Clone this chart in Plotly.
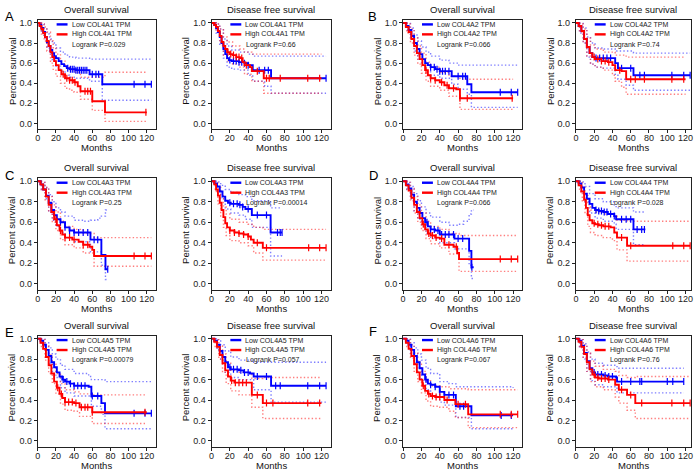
import plotly.graph_objects as go

genes = ["COL4A1", "COL4A2", "COL4A3", "COL4A4", "COL4A5", "COL4A6"]
letters = ["A", "B", "C", "D", "E", "F"]
p_os = ["0.029", "0.066", "0.25", "0.066", "0.00079", "0.067"]
p_dfs = ["0.66", "0.74", "0.00014", "0.028", "0.057", "0.76"]
x_ticks = [0, 20, 40, 60, 80, 100, 120]
y_ticks = [0.0, 0.2, 0.4, 0.6, 0.8, 1.0]

# ---- A: COL4A1 ----
A_OS_low = [[0,1],[2,0.98],[4,0.95],[6,0.91],[8,0.86],[10,0.81],[12,0.77],[14,0.73],[16,0.70],[18,0.67],[20,0.65],[23,0.62],[26,0.59],[29,0.57],[32,0.55],[35,0.54],[42,0.53],[57,0.49],[71,0.39],[125,0.39]]
A_OS_low_up = [[0,1],[4,0.99],[7,0.95],[10,0.89],[13,0.84],[16,0.80],[20,0.75],[25,0.71],[30,0.68],[35,0.66],[42,0.65],[57,0.64],[125,0.64]]
A_OS_low_dn = [[0,1],[4,0.92],[7,0.85],[10,0.75],[13,0.69],[16,0.63],[20,0.57],[25,0.52],[30,0.48],[35,0.46],[42,0.45],[57,0.42],[71,0.23],[125,0.23]]
A_OS_low_c = [33,36,38,40,42,44,46,48,50,52,54,60,64,67,106,118,125]
A_OS_high = [[0,1],[2,0.97],[4,0.94],[6,0.90],[8,0.86],[10,0.82],[12,0.77],[14,0.71],[16,0.66],[18,0.62],[20,0.58],[23,0.53],[26,0.49],[30,0.45],[35,0.43],[40,0.41],[44,0.37],[47,0.32],[60,0.22],[74,0.11],[120,0.11]]
A_OS_high_up = [[0,1],[4,0.99],[7,0.96],[10,0.91],[14,0.82],[17,0.75],[20,0.69],[25,0.62],[30,0.56],[35,0.53],[40,0.51],[47,0.46],[60,0.46],[74,0.51],[120,0.51]]
A_OS_high_dn = [[0,1],[4,0.89],[7,0.82],[10,0.72],[14,0.60],[17,0.53],[20,0.47],[25,0.40],[30,0.35],[35,0.33],[40,0.31],[47,0.24],[60,0.13],[74,0.02],[120,0.02]]
A_OS_high_c = [28,32,35,38,41,52,55,58,119]

A_DFS_low = [[0,1],[3,0.98],[5,0.95],[7,0.91],[9,0.86],[11,0.80],[13,0.74],[15,0.69],[17,0.65],[19,0.63],[22,0.62],[30,0.61],[36,0.60],[40,0.58],[45,0.53],[65,0.45],[125,0.45]]
A_DFS_low_up = [[0,1],[5,0.99],[9,0.94],[13,0.84],[17,0.77],[22,0.73],[30,0.71],[40,0.69],[45,0.67],[65,0.67],[125,0.67]]
A_DFS_low_dn = [[0,1],[5,0.90],[9,0.78],[13,0.65],[17,0.56],[22,0.54],[30,0.53],[40,0.48],[45,0.42],[58,0.37],[65,0.30],[125,0.30]]
A_DFS_low_c = [20,24,27,30,33,36,40,52,58,62,125]
A_DFS_high = [[0,1],[3,0.98],[5,0.96],[7,0.92],[9,0.87],[11,0.81],[13,0.77],[15,0.74],[17,0.71],[20,0.69],[23,0.68],[27,0.66],[31,0.65],[34,0.61],[36,0.58],[42,0.56],[44,0.52],[57,0.45],[120,0.45]]
A_DFS_high_up = [[0,1],[5,0.99],[9,0.94],[13,0.86],[17,0.81],[23,0.77],[31,0.74],[36,0.71],[44,0.69],[57,0.69],[120,0.69]]
A_DFS_high_dn = [[0,1],[5,0.92],[9,0.80],[13,0.68],[17,0.62],[23,0.59],[31,0.56],[36,0.49],[44,0.42],[57,0.30],[120,0.30]]
A_DFS_high_c = [18,21,24,27,30,33,38,50,60,63,75,105,118]

# ---- B: COL4A2 ----
B_OS_low = [[0,1],[3,0.97],[6,0.93],[9,0.87],[12,0.80],[15,0.74],[18,0.69],[21,0.64],[24,0.60],[27,0.58],[30,0.56],[35,0.54],[40,0.52],[53,0.47],[70,0.39],[74.5,0.31],[125,0.31]]
B_OS_low_up = [[0,1],[4,0.995],[8,0.95],[12,0.88],[16,0.82],[20,0.76],[25,0.71],[30,0.67],[40,0.63],[50,0.60],[60,0.58],[125,0.58]]
B_OS_low_dn = [[0,1],[4,0.93],[8,0.84],[12,0.72],[16,0.64],[20,0.58],[25,0.52],[30,0.48],[40,0.45],[53,0.39],[60,0.34],[70,0.29],[74.5,0.16],[125,0.16]]
B_OS_low_c = [30,34,37,40,43,46,50,60,65,68,106,118,125]
B_OS_high = [[0,1],[3,0.96],[6,0.91],[9,0.84],[12,0.77],[15,0.70],[18,0.64],[21,0.58],[24,0.53],[27,0.48],[30,0.45],[35,0.43],[40,0.41],[45,0.38],[50,0.35],[58,0.34],[62,0.25],[120,0.25]]
B_OS_high_up = [[0,1],[4,0.99],[8,0.94],[12,0.85],[16,0.77],[20,0.70],[25,0.61],[30,0.56],[40,0.51],[50,0.47],[62,0.44],[120,0.44]]
B_OS_high_dn = [[0,1],[4,0.90],[8,0.80],[12,0.68],[16,0.59],[20,0.50],[25,0.42],[30,0.37],[40,0.33],[50,0.27],[62,0.14],[120,0.14]]
B_OS_high_c = [25,30,35,42,48,55,62,70,119]

B_DFS_low = [[0,1],[3,0.97],[6,0.92],[9,0.84],[12,0.76],[15,0.70],[18,0.66],[21,0.65],[41,0.65],[43,0.60],[46,0.55],[63,0.48],[125,0.48]]
B_DFS_low_up = [[0,1],[4,0.995],[8,0.95],[12,0.86],[16,0.80],[21,0.75],[30,0.74],[43,0.72],[63,0.70],[125,0.70]]
B_DFS_low_dn = [[0,1],[4,0.90],[8,0.80],[12,0.66],[16,0.59],[21,0.56],[30,0.55],[43,0.49],[46,0.44],[55,0.38],[63,0.33],[125,0.33]]
B_DFS_low_c = [22,26,30,34,38,50,60,70,75,105,118,125]
B_DFS_high = [[0,1],[3,0.97],[6,0.92],[9,0.84],[12,0.76],[15,0.70],[18,0.66],[21,0.64],[28,0.62],[35,0.61],[40,0.58],[43,0.53],[50,0.52],[55,0.44],[120,0.44]]
B_DFS_high_up = [[0,1],[4,0.99],[8,0.94],[12,0.85],[16,0.78],[21,0.74],[30,0.71],[43,0.68],[55,0.66],[120,0.66]]
B_DFS_high_dn = [[0,1],[4,0.91],[8,0.80],[12,0.67],[16,0.59],[21,0.56],[30,0.53],[40,0.48],[43,0.42],[50,0.36],[55,0.29],[120,0.29]]
B_DFS_high_c = [20,24,28,32,36,48,60,65,75,105,118]

# ---- C: COL4A3 ----
C_OS_low = [[0,1],[3,0.97],[6,0.92],[9,0.86],[12,0.79],[15,0.72],[18,0.67],[21,0.63],[25,0.60],[30,0.55],[35,0.52],[40,0.50],[58,0.43],[70,0.28],[74.5,0.14],[77,0.14]]
C_OS_low_up = [[0,1],[4,0.99],[8,0.94],[12,0.87],[16,0.80],[20,0.74],[25,0.70],[30,0.66],[40,0.62],[50,0.61],[58,0.62],[66,0.64],[70,0.66],[74.5,0.72],[77,0.72]]
C_OS_low_dn = [[0,1],[4,0.92],[8,0.83],[12,0.70],[16,0.62],[20,0.56],[25,0.50],[30,0.45],[40,0.41],[58,0.31],[70,0.18],[74.5,0.04],[77,0.04]]
C_OS_low_c = [25,30,35,40,45,50,55,62,66,77]
C_OS_high = [[0,1],[3,0.97],[6,0.92],[9,0.85],[12,0.77],[15,0.70],[18,0.63],[21,0.57],[24,0.52],[27,0.48],[30,0.45],[38,0.43],[45,0.41],[50,0.38],[57,0.36],[60,0.33],[62,0.27],[125,0.27]]
C_OS_high_up = [[0,1],[4,0.99],[8,0.94],[12,0.85],[16,0.77],[20,0.70],[25,0.61],[30,0.56],[40,0.53],[50,0.49],[62,0.45],[125,0.45]]
C_OS_high_dn = [[0,1],[4,0.92],[8,0.82],[12,0.70],[16,0.60],[20,0.52],[25,0.43],[30,0.38],[40,0.35],[50,0.30],[62,0.17],[125,0.17]]
C_OS_high_c = [20,25,30,35,40,50,55,106,118,125]

C_DFS_low = [[0,1],[3,0.98],[6,0.95],[9,0.90],[12,0.85],[15,0.81],[18,0.79],[21,0.78],[30,0.77],[34,0.75],[37,0.73],[44,0.67],[64.5,0.50],[77,0.50]]
C_DFS_low_up = [[0,1],[6,0.995],[10,0.96],[15,0.92],[21,0.89],[30,0.87],[37,0.85],[44,0.81],[64.5,0.74],[77,0.74]]
C_DFS_low_dn = [[0,1],[6,0.91],[10,0.83],[15,0.73],[21,0.69],[30,0.67],[37,0.63],[44,0.55],[64.5,0.27],[77,0.27]]
C_DFS_low_c = [20,24,28,31,34,40,50,60,72,75,77]
C_DFS_high = [[0,1],[3,0.97],[5,0.92],[7,0.86],[9,0.79],[11,0.72],[13,0.65],[15,0.59],[17,0.55],[20,0.52],[25,0.50],[30,0.49],[35,0.48],[40,0.46],[43,0.43],[46,0.40],[56,0.35],[125,0.35]]
C_DFS_high_up = [[0,1],[4,0.99],[7,0.94],[10,0.86],[13,0.76],[16,0.68],[20,0.63],[30,0.60],[40,0.58],[46,0.55],[56,0.53],[125,0.53]]
C_DFS_high_dn = [[0,1],[4,0.90],[7,0.78],[10,0.66],[13,0.55],[16,0.47],[20,0.42],[30,0.40],[40,0.37],[46,0.30],[56,0.23],[125,0.23]]
C_DFS_high_c = [20,25,30,35,40,50,60,106,118,125]

# ---- D: COL4A4 ----
D_OS_low = [[0,1],[3,0.97],[6,0.93],[9,0.87],[12,0.80],[15,0.74],[18,0.69],[21,0.64],[24,0.60],[27,0.56],[30,0.53],[35,0.52],[40,0.48],[56,0.44],[72,0.32],[74.5,0.16],[77,0.16]]
D_OS_low_up = [[0,1],[4,0.99],[8,0.95],[12,0.88],[16,0.81],[20,0.75],[25,0.69],[30,0.65],[40,0.60],[50,0.57],[60,0.58],[66,0.61],[72,0.68],[74.5,0.72],[77,0.72]]
D_OS_low_dn = [[0,1],[4,0.92],[8,0.83],[12,0.71],[16,0.63],[20,0.56],[25,0.49],[30,0.44],[40,0.40],[56,0.34],[72,0.18],[74.5,0.05],[77,0.05]]
D_OS_low_c = [26,30,34,38,42,46,50,55,60,65,75]
D_OS_high = [[0,1],[3,0.96],[6,0.91],[9,0.84],[12,0.77],[15,0.70],[18,0.64],[21,0.58],[24,0.53],[27,0.49],[30,0.47],[35,0.45],[40,0.44],[45,0.38],[55,0.36],[59,0.30],[61,0.24],[125,0.24]]
D_OS_high_up = [[0,1],[4,0.99],[8,0.93],[12,0.85],[16,0.77],[20,0.69],[25,0.61],[30,0.56],[40,0.53],[50,0.49],[61,0.47],[125,0.47]]
D_OS_high_dn = [[0,1],[4,0.91],[8,0.81],[12,0.69],[16,0.60],[20,0.52],[25,0.44],[30,0.39],[40,0.35],[50,0.29],[61,0.12],[125,0.12]]
D_OS_high_c = [22,28,32,36,42,50,58,106,118,125]

D_DFS_low = [[0,1],[3,0.98],[6,0.94],[9,0.88],[12,0.83],[15,0.78],[18,0.74],[21,0.72],[25,0.71],[30,0.70],[35,0.68],[42,0.66],[44,0.63],[63,0.53],[76,0.53]]
D_DFS_low_up = [[0,1],[6,0.995],[10,0.95],[15,0.88],[21,0.83],[30,0.80],[42,0.77],[44,0.74],[63,0.70],[76,0.70]]
D_DFS_low_dn = [[0,1],[6,0.89],[10,0.80],[15,0.69],[21,0.64],[30,0.61],[42,0.58],[44,0.53],[63,0.38],[76,0.38]]
D_DFS_low_c = [22,25,28,31,34,38,42,50,55,60,67,72,75]
D_DFS_high = [[0,1],[3,0.96],[6,0.90],[9,0.82],[11,0.74],[13,0.67],[15,0.62],[18,0.59],[21,0.58],[25,0.57],[30,0.56],[38,0.55],[42,0.50],[45,0.45],[56,0.37],[125,0.37]]
D_DFS_high_up = [[0,1],[4,0.99],[7,0.94],[10,0.86],[13,0.77],[16,0.72],[21,0.70],[30,0.68],[40,0.66],[45,0.62],[56,0.61],[125,0.61]]
D_DFS_high_dn = [[0,1],[4,0.90],[7,0.80],[10,0.68],[13,0.56],[16,0.50],[21,0.47],[30,0.45],[40,0.42],[45,0.33],[56,0.22],[125,0.22]]
D_DFS_high_c = [20,24,28,32,36,50,60,106,118,125]

# ---- E: COL4A5 ----
E_OS_low = [[0,1],[3,0.98],[6,0.94],[9,0.89],[12,0.83],[15,0.77],[18,0.72],[21,0.67],[24,0.63],[27,0.60],[30,0.58],[35,0.56],[40,0.54],[56,0.53],[59,0.44],[70,0.37],[74,0.27],[125,0.27]]
E_OS_low_up = [[0,1],[4,0.995],[8,0.96],[12,0.91],[16,0.85],[20,0.80],[25,0.74],[30,0.70],[40,0.66],[56,0.63],[59,0.60],[74,0.58],[125,0.58]]
E_OS_low_dn = [[0,1],[4,0.94],[8,0.86],[12,0.76],[16,0.68],[20,0.62],[25,0.52],[30,0.47],[40,0.44],[59,0.34],[70,0.26],[74,0.12],[125,0.12]]
E_OS_low_c = [28,32,36,40,44,48,52,60,66,106,118,125]
E_OS_high = [[0,1],[3,0.96],[6,0.90],[9,0.82],[12,0.74],[15,0.66],[18,0.58],[21,0.52],[24,0.46],[27,0.42],[30,0.38],[40,0.37],[46,0.33],[60,0.28],[120,0.28]]
E_OS_high_up = [[0,1],[4,0.99],[8,0.93],[12,0.84],[16,0.75],[20,0.66],[25,0.56],[30,0.50],[40,0.48],[46,0.46],[60,0.45],[120,0.45]]
E_OS_high_dn = [[0,1],[4,0.90],[8,0.79],[12,0.66],[16,0.56],[20,0.46],[25,0.36],[30,0.30],[40,0.29],[46,0.24],[60,0.17],[120,0.17]]
E_OS_high_c = [22,26,30,34,38,42,48,52,55,60,118]

E_DFS_low = [[0,1],[3,0.98],[6,0.94],[9,0.88],[12,0.82],[15,0.77],[18,0.72],[21,0.70],[30,0.69],[35,0.67],[42,0.66],[46,0.63],[65,0.54],[125,0.54]]
E_DFS_low_up = [[0,1],[6,0.99],[10,0.94],[15,0.88],[21,0.82],[30,0.79],[46,0.77],[125,0.77]]
E_DFS_low_dn = [[0,1],[6,0.89],[10,0.79],[15,0.67],[21,0.62],[30,0.60],[46,0.50],[65,0.38],[125,0.38]]
E_DFS_low_c = [20,24,28,32,36,40,50,60,70,75,105,118,125]
E_DFS_high = [[0,1],[3,0.97],[6,0.92],[9,0.84],[12,0.76],[15,0.69],[18,0.63],[21,0.59],[25,0.57],[44,0.45],[56,0.37],[120,0.37]]
E_DFS_high_up = [[0,1],[4,0.99],[8,0.93],[12,0.85],[16,0.76],[21,0.69],[30,0.67],[44,0.61],[56,0.62],[120,0.62]]
E_DFS_high_dn = [[0,1],[4,0.91],[8,0.80],[12,0.67],[16,0.56],[21,0.49],[30,0.45],[44,0.33],[56,0.22],[120,0.22]]
E_DFS_high_c = [22,26,30,34,38,50,60,67,105,118]

# ---- F: COL4A6 ----
F_OS_low = [[0,1],[3,0.98],[6,0.94],[9,0.89],[12,0.83],[15,0.77],[18,0.71],[21,0.65],[24,0.60],[27,0.56],[30,0.55],[35,0.53],[40,0.48],[45,0.45],[57.5,0.34],[74.5,0.25],[120,0.25]]
F_OS_low_up = [[0,1],[4,0.995],[8,0.96],[12,0.91],[16,0.85],[20,0.79],[25,0.71],[30,0.66],[40,0.58],[50,0.56],[57.5,0.53],[120,0.52]]
F_OS_low_dn = [[0,1],[4,0.94],[8,0.86],[12,0.76],[16,0.67],[20,0.59],[25,0.50],[30,0.44],[40,0.38],[45,0.35],[57.5,0.23],[74.5,0.12],[120,0.12]]
F_OS_low_c = [25,30,35,40,45,50,55,62,66,107,118]
F_OS_high = [[0,1],[3,0.96],[6,0.90],[9,0.83],[12,0.75],[15,0.67],[18,0.60],[21,0.54],[24,0.49],[27,0.46],[30,0.44],[35,0.43],[45,0.40],[57,0.36],[71,0.26],[125,0.26]]
F_OS_high_up = [[0,1],[4,0.99],[8,0.94],[12,0.86],[16,0.77],[20,0.68],[25,0.59],[30,0.54],[40,0.53],[50,0.51],[71,0.50],[125,0.50]]
F_OS_high_dn = [[0,1],[4,0.91],[8,0.81],[12,0.68],[16,0.58],[20,0.47],[25,0.39],[30,0.34],[40,0.33],[50,0.29],[57,0.23],[71,0.13],[125,0.13]]
F_OS_high_c = [22,28,32,36,40,48,60,68,106,118,125]

F_DFS_low = [[0,1],[3,0.98],[6,0.93],[9,0.86],[12,0.78],[15,0.71],[18,0.67],[21,0.65],[30,0.64],[35,0.63],[44,0.62],[45,0.58],[118,0.58]]
F_DFS_low_up = [[0,1],[4,0.99],[8,0.95],[12,0.87],[16,0.80],[21,0.76],[30,0.74],[45,0.71],[118,0.71]]
F_DFS_low_dn = [[0,1],[4,0.92],[8,0.80],[12,0.68],[16,0.59],[21,0.55],[30,0.53],[45,0.47],[118,0.47]]
F_DFS_low_c = [20,24,28,32,36,40,50,60,70,72,100,106,118]
F_DFS_high = [[0,1],[3,0.97],[6,0.92],[9,0.85],[12,0.77],[15,0.70],[18,0.65],[21,0.62],[25,0.61],[35,0.60],[43,0.55],[47,0.50],[56,0.45],[65,0.37],[125,0.37]]
F_DFS_high_up = [[0,1],[4,0.99],[8,0.94],[12,0.86],[16,0.78],[21,0.73],[30,0.70],[43,0.68],[47,0.64],[56,0.62],[65,0.63],[125,0.63]]
F_DFS_high_dn = [[0,1],[4,0.91],[8,0.81],[12,0.68],[16,0.58],[21,0.53],[30,0.50],[43,0.43],[47,0.37],[56,0.30],[65,0.22],[125,0.22]]
F_DFS_high_c = [20,24,28,32,36,50,60,72,105,118,125]

# ---------------- layout geometry (pixels) ----------------
W, H = 700, 473
col_px = [(35, 154), (210, 330), (403, 523), (577, 693)]
row_px = [(18, 128), (177, 289), (335, 447)]
x_max = [130, 130, 130, 126]
y_rng = [-0.06, 1.03]
FONT = "Liberation Sans, Arial, sans-serif"

BLUE, RED = "#0000ff", "#ff0000"
CI_COL = {BLUE: "rgba(40,40,255,0.6)", RED: "rgba(255,40,40,0.6)"}


def step_at(curve, t):
    v = curve[0][1]
    for tt, s in curve:
        if tt <= t:
            v = s
    return v


fig = go.Figure()
annotations = []
shapes = []
G = globals()

for k in range(12):
    row, col = k // 4, k % 4
    gi = row * 2 + col // 2
    L = letters[gi]
    kind = "OS" if col % 2 == 0 else "DFS"
    i = k + 1
    xa = "x" if i == 1 else f"x{i}"
    ya = "y" if i == 1 else f"y{i}"
    series = []
    for grp, color in (("low", BLUE), ("high", RED)):
        base = f"{L}_{kind}_{grp}"
        series.append((G[base], G[base + "_up"], G[base + "_dn"], G[base + "_c"], color))
    for main, up, dn, cens, color in series:
        for ci in (up, dn):
            fig.add_trace(go.Scatter(
                x=[p[0] for p in ci], y=[p[1] for p in ci], mode="lines",
                line=dict(color=CI_COL[color], width=1.4, dash="1.4px,2.2px", shape="hv"),
                xaxis=xa, yaxis=ya, showlegend=False, hoverinfo="skip"))
    for main, up, dn, cens, color in series:
        fig.add_trace(go.Scatter(
            x=[p[0] for p in main], y=[p[1] for p in main], mode="lines",
            line=dict(color=color, width=1.9, shape="hv"),
            xaxis=xa, yaxis=ya, showlegend=False, hoverinfo="skip"))
        tend = main[-1][0]
        ct = [t for t in cens if t <= tend]
        fig.add_trace(go.Scatter(
            x=ct, y=[step_at(main, t) for t in ct], mode="markers",
            marker=dict(symbol="line-ns-open", size=5, color=color,
                        line=dict(color=color, width=1.2)),
            xaxis=xa, yaxis=ya, showlegend=False, hoverinfo="skip"))

    x0p, x1p = col_px[col]
    y0p, y1p = row_px[row]
    dom_x = [x0p / W, x1p / W]
    dom_y = [1 - y1p / H, 1 - y0p / H]
    axis_common = dict(showline=True, mirror=True, linecolor="#222", linewidth=1,
                       ticks="outside", ticklen=3, tickwidth=1, tickcolor="#222",
                       showgrid=False, zeroline=False,
                       tickfont=dict(family=FONT, size=9, color="#222"))
    xname = "xaxis" if i == 1 else f"xaxis{i}"
    yname = "yaxis" if i == 1 else f"yaxis{i}"
    fig.update_layout(**{
        xname: dict(domain=dom_x, range=[0, x_max[col]], tickvals=x_ticks, anchor=ya,
                    ticklabelstandoff=-3, **axis_common),
        yname: dict(domain=dom_y, range=y_rng, tickvals=y_ticks,
                    ticktext=[f"{v:.1f}" for v in y_ticks], anchor=xa, **axis_common),
    })

    xd, yd = f"{xa} domain", f"{ya} domain"
    pw, ph = x1p - x0p, y1p - y0p
    title = "Overall survival" if kind == "OS" else "Disease free survival"
    annotations.append(dict(text=title, x=0.5, y=1, xref=xd, yref=yd, xanchor="center",
                            yanchor="bottom", yshift=3, showarrow=False,
                            font=dict(family=FONT, size=9.5, color="#111")))
    annotations.append(dict(text="Months", x=0.5, y=0, xref=xd, yref=yd, xanchor="center",
                            yanchor="top", yshift=-11, showarrow=False,
                            font=dict(family=FONT, size=9.5, color="#111")))
    annotations.append(dict(text="Percent survival", x=0, y=0.52, xref=xd, yref=ya,
                            xanchor="center", yanchor="middle", xshift=-26, textangle=-90,
                            showarrow=False, font=dict(family=FONT, size=9.5, color="#111")))
    gene = genes[gi]
    pv = p_os[gi] if kind == "OS" else p_dfs[gi]
    legend_rows = [(f"Low {gene} TPM", BLUE, 4.5), (f"High {gene} TPM", RED, 14.5)]
    for txt, color, dy in legend_rows:
        yy = 1 - dy / ph
        shapes.append(dict(type="line", xref=xd, yref=yd, x0=19 / pw, x1=30 / pw,
                           y0=yy, y1=yy, line=dict(color=color, width=2.4)))
        annotations.append(dict(text=txt, x=32 / pw, y=yy, xref=xd, yref=yd,
                                xanchor="left", yanchor="middle", showarrow=False,
                                font=dict(family=FONT, size=7, color="#222")))
    annotations.append(dict(text=f"Logrank P={pv}", x=32.5 / pw, y=1 - 25 / ph, xref=xd,
                            yref=yd, xanchor="left", yanchor="middle", showarrow=False,
                            font=dict(family=FONT, size=7, color="#222")))

letter_pos = [(7, 14.5), (372, 14.5), (7, 174), (373, 174), (7, 332), (373, 331)]
for L, (px, py) in zip(letters, letter_pos):
    annotations.append(dict(text=L, x=px / W, y=1 - py / H, xref="paper", yref="paper",
                            xanchor="center", yanchor="middle", showarrow=False,
                            font=dict(family=FONT, size=13, color="#000")))

fig.update_layout(width=W, height=H, margin=dict(l=0, r=0, t=0, b=0),
                  paper_bgcolor="white", plot_bgcolor="white",
                  annotations=annotations, shapes=shapes, showlegend=False)
fig.write_html("out.html", config={"displayModeBar": False},
               post_script="document.body.style.margin='0px';")
